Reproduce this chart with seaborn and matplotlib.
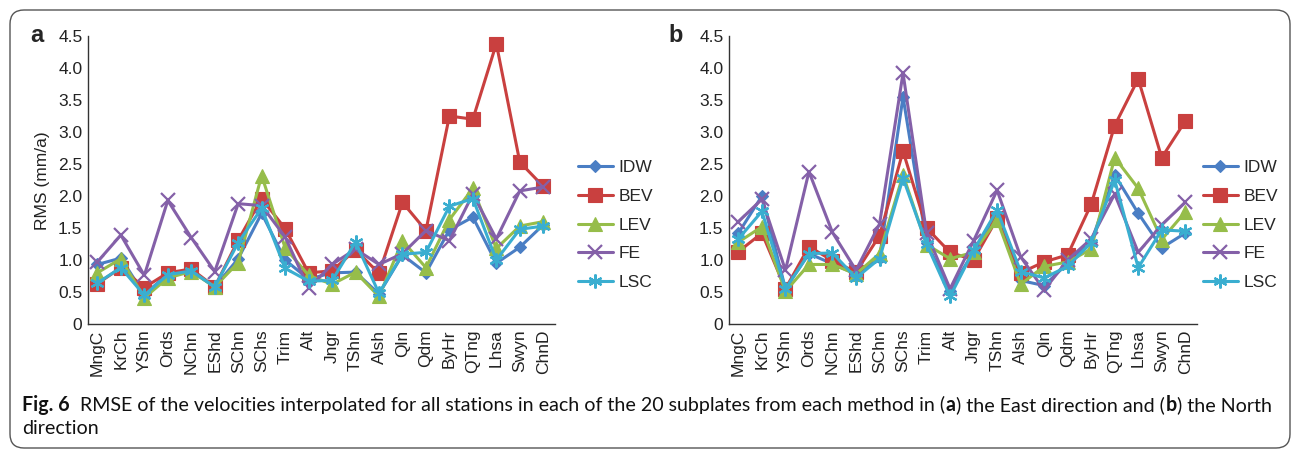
import numpy as np
import pandas as pd
import seaborn as sns
import matplotlib.pyplot as plt
from matplotlib.patches import FancyBboxPatch
from matplotlib.transforms import IdentityTransform

subplates = ['MngC', 'KrCh', 'YShn', 'Ords', 'NChn', 'EShd', 'SChn', 'SChs', 'Trim', 'Alt',
             'Jngr', 'TShn', 'Alsh', 'Qln', 'Qdm', 'ByHr', 'QTng', 'Lhsa', 'Swyn', 'ChnD']
methods = ['IDW', 'BEV', 'LEV', 'FE', 'LSC']

# (a) East direction, RMS in mm/a
east_idw = [0.93, 1.03, 0.46, 0.78, 0.83, 0.58, 1.02, 1.73, 1.00, 0.70, 0.80, 0.81, 0.47, 1.08, 0.80, 1.47, 1.67, 0.95, 1.20, 1.55]
east_bev = [0.63, 0.88, 0.57, 0.80, 0.86, 0.58, 1.31, 1.96, 1.49, 0.80, 0.83, 1.16, 0.79, 1.90, 1.46, 3.25, 3.20, 4.38, 2.53, 2.15]
east_lev = [0.80, 1.02, 0.41, 0.72, 0.82, 0.58, 0.96, 2.32, 1.19, 0.76, 0.62, 0.81, 0.43, 1.30, 0.88, 1.63, 2.12, 1.18, 1.53, 1.60]
east_fe = [0.97, 1.39, 0.76, 1.93, 1.35, 0.82, 1.88, 1.85, 1.36, 0.56, 0.93, 1.17, 0.93, 1.10, 1.46, 1.30, 2.03, 1.33, 2.08, 2.14]
east_lsc = [0.64, 0.88, 0.45, 0.77, 0.83, 0.58, 1.27, 1.81, 0.87, 0.67, 0.68, 1.28, 0.48, 1.09, 1.12, 1.84, 1.96, 1.00, 1.48, 1.53]

# (b) North direction, RMS in mm/a
north_idw = [1.42, 2.00, 0.55, 1.10, 0.94, 0.78, 1.03, 3.55, 1.27, 0.52, 1.13, 1.68, 0.68, 0.60, 0.95, 1.28, 2.33, 1.73, 1.19, 1.42]
north_bev = [1.13, 1.42, 0.55, 1.21, 0.99, 0.81, 1.38, 2.70, 1.50, 1.12, 1.00, 1.65, 0.80, 0.97, 1.08, 1.87, 3.10, 3.83, 2.60, 3.17]
north_lev = [1.28, 1.52, 0.51, 0.93, 0.93, 0.78, 1.10, 2.33, 1.24, 1.02, 1.12, 1.63, 0.62, 0.90, 0.97, 1.17, 2.60, 2.12, 1.32, 1.75]
north_fe = [1.60, 1.95, 0.84, 2.38, 1.43, 0.84, 1.56, 3.92, 1.42, 0.55, 1.30, 2.09, 1.05, 0.53, 1.00, 1.33, 2.03, 1.12, 1.55, 1.90]
north_lsc = [1.33, 1.76, 0.55, 1.10, 1.11, 0.72, 1.02, 2.28, 1.25, 0.43, 1.15, 1.78, 0.82, 0.72, 0.90, 1.27, 2.25, 0.88, 1.47, 1.45]

colors = {'IDW': '#4A7EC4', 'BEV': '#C9403F', 'LEV': '#96BD4A', 'FE': '#8460A8', 'LSC': '#3AAED0'}
markers = {'IDW': 'D', 'BEV': 's', 'LEV': '^', 'FE': 'x', 'LSC': (6, 2, 0)}
msize = {'IDW': 6.5, 'BEV': 9.5, 'LEV': 9.5, 'FE': 10, 'LSC': 10}


def make_df(vals):
    rows = []
    for m, v in zip(methods, vals):
        for s, r in zip(subplates, v):
            rows.append({'subplate': s, 'rms': r, 'method': m})
    return pd.DataFrame(rows)


df_e = make_df([east_idw, east_bev, east_lev, east_fe, east_lsc])
df_n = make_df([north_idw, north_bev, north_lev, north_fe, north_lsc])

sns.set_style('white')
plt.rcParams['font.family'] = ['Liberation Sans', 'DejaVu Sans']

W, H = 1296, 454
fig = plt.figure(figsize=(W / 100, H / 100), dpi=100)
ax_a = fig.add_axes([88 / W, 1 - 324 / H, 467 / W, 288 / H])
ax_b = fig.add_axes([729 / W, 1 - 324 / H, 468 / W, 288 / H])

for ax, df, leg_x in [(ax_a, df_e, 578), (ax_b, df_n, 1203)]:
    sns.lineplot(data=df, x='subplate', y='rms', hue='method', palette=colors,
                 linewidth=2.2, legend=False, ax=ax, sort=False)
    # seaborn won't mix filled and line-art markers, so set them per line
    for line, m in zip(ax.lines, methods):
        line.set_marker(markers[m])
        line.set_markersize(msize[m])
        line.set_markeredgecolor(colors[m])
        line.set_markerfacecolor(colors[m])
        line.set_markeredgewidth(1.6 if m in ('FE', 'LSC') else 0.8)
    ax.set_xlim(-0.4, 19.5)
    ax.set_ylim(0, 4.5)
    ax.set_yticks(np.arange(0, 4.51, 0.5))
    ax.set_yticklabels(['0'] + ['%.1f' % v for v in np.arange(0.5, 4.51, 0.5)])
    ax.set_xticks(range(len(subplates)))
    ax.set_xticklabels(subplates, rotation=90)
    ax.tick_params(length=0, labelsize=12.5, colors='#222222', pad=4)
    ax.set_xlabel('')
    ax.set_ylabel('')
    sns.despine(ax=ax)
    for sp in ('left', 'bottom'):
        ax.spines[sp].set_color('#333333')
        ax.spines[sp].set_linewidth(1.0)
    ax.legend(handles=ax.lines[:5], labels=methods, loc='center left',
              bbox_to_anchor=(leg_x / W, 1 - 225 / H), bbox_transform=fig.transFigure,
              frameon=False, fontsize=12.5, borderpad=0, borderaxespad=0,
              handlelength=2.0, handletextpad=0.35, labelspacing=0.78)

fig.text(42 / W, 1 - 181 / H, 'RMS (mm/a)', rotation=90, ha='center', va='center',
         fontsize=12.5, color='#222222')
fig.text(37 / W, 1 - 36 / H, 'a', fontsize=17, fontweight='bold', ha='center', va='center')
fig.text(676 / W, 1 - 36 / H, 'b', fontsize=17, fontweight='bold', ha='center', va='center')

# caption built piece by piece so the bold letters sit inline
cap_font = ['DejaVu Sans Condensed', 'Lato', 'DejaVu Sans']
pieces = [('Fig. 6', 'bold'),
          ('  RMSE of the velocities interpolated for all stations in each of the 20 subplates from each method in (', 'normal'),
          ('a', 'bold'), (') the East direction and (', 'normal'), ('b', 'bold'), (') the North', 'normal')]
renderer = fig.canvas.get_renderer()


def place_line(pcs, y, size):
    x = 22
    made = []
    for txt, wt in pcs:
        t = fig.text(x / W, 1 - y / H, txt, fontsize=size, fontweight=wt, family=cap_font,
                     ha='left', va='center', color='#111111')
        made.append(t)
        x = t.get_window_extent(renderer).x1 + 0.5
    return x, made


# fit the first caption line to the reference width
size = 10.5
end, made = place_line(pieces, 405, size)
for t in made:
    t.remove()
size = size * (1278 - 22) / (end - 22)
place_line(pieces, 405, size)
place_line([('direction', 'normal')], 428, size)

fig.patches.append(FancyBboxPatch((10, 6), 1280, 438, boxstyle='round,pad=0,rounding_size=14',
                                  transform=IdentityTransform(), fill=False,
                                  edgecolor='#555555', linewidth=1.0, figure=fig))

fig.savefig('out.png', dpi=100)
